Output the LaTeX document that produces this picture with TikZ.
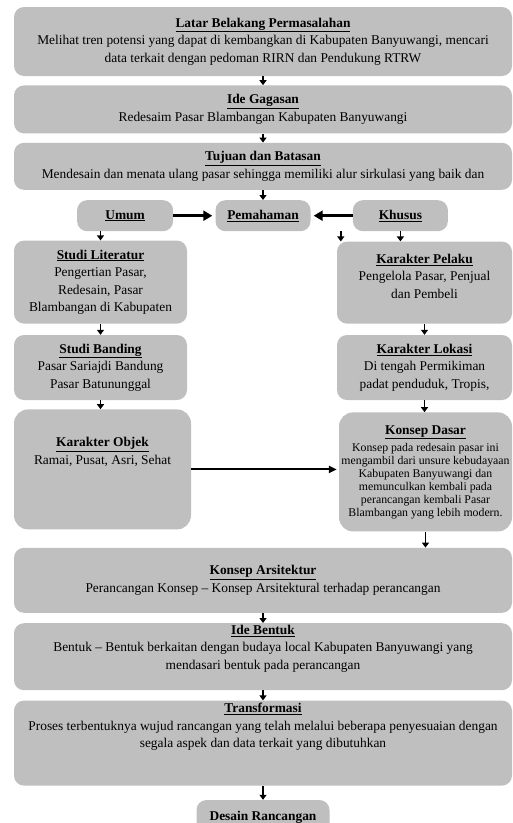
\documentclass[tikz,border=0pt]{standalone}
\usepackage{fontspec}
\setmainfont{Liberation Serif}
\usetikzlibrary{positioning, arrows.meta}

\definecolor{boxgray}{RGB}{191,191,191}
\newcommand{\boxhead}[1]{\underline{\textbf{#1}}}

\tikzset{
	flowpicture/.style = {
		x = 1pt,
		y = 1pt,
		font = \fontsize{13.4}{17.5}\selectfont,
		arrow/.style = {
			draw,
			line width = 1.7pt,
			-{Triangle[length=5pt, width=7pt]},
		},
		wide-arrow/.style = {
			line width = 3pt,
			-{Triangle[length=9pt, width=10pt]},
			shorten >= 3pt,
		},
		long-arrow/.style = {
			line width = 2pt,
			-{Triangle[length=8pt, width=7pt]},
			shorten >= 2pt,
		}
	},
	flownode/.style = {
		fill = boxgray,
		rounded corners = 10pt,
		align = center,
		inner sep = 0pt
	},
	mainnode/.style = {
		flownode,
		minimum width = 498pt
	},
	lift/.style = {
		text depth = #1
	},
	smalltext/.style = {
		font = \fontsize{11.8}{13}\selectfont
	}
}

\begin{document}
\begin{tikzpicture}[flowpicture]
	\useasboundingbox (0,0) rectangle (513,-823);

	\node[mainnode, minimum height = 69pt] (latar) at (263,-41.5)
		{\boxhead{Latar Belakang Permasalahan}\\Melihat tren potensi yang dapat di kembangkan di Kabupaten Banyuwangi, mencari\\data terkait dengan pedoman RIRN dan Pendukung RTRW};
	\node[mainnode, minimum height = 48pt, below = 9pt of latar] (gagasan)
		{\boxhead{Ide Gagasan}\\Redesaim Pasar Blambangan Kabupaten Banyuwangi};
	\node[mainnode, minimum height = 47pt, below = 9pt of gagasan] (tujuan)
		{\boxhead{Tujuan dan Batasan}\\Mendesain dan menata ulang pasar sehingga memiliki alur sirkulasi yang baik dan};

	\node[flownode, minimum width = 95pt, minimum height = 31pt, below = 10pt of tujuan] (pemahaman) {\boxhead{Pemahaman}};
	\node[flownode, minimum width = 96pt, minimum height = 31pt, left = 42pt of pemahaman] (umum) {\boxhead{Umum}};
	\node[flownode, minimum width = 95pt, minimum height = 31pt, right = 42pt of pemahaman] (khusus) {\boxhead{Khusus}};

	% kolom kiri
	\node[flownode, minimum width = 173pt, minimum height = 83pt, anchor = north west] (literatur) at ([yshift=-9pt]umum.south -| latar.west)
		{\boxhead{Studi Literatur}\\Pengertian Pasar,\\Redesain, Pasar\\Blambangan di Kabupaten};
	\node[flownode, minimum width = 173pt, minimum height = 65pt, below = 11pt of literatur] (banding)
		{\boxhead{Studi Banding}\\Pasar Sariajdi Bandung\\Pasar Batununggal};
	\node[flownode, rounded corners = 14pt, minimum width = 177pt, minimum height = 120pt, lift = 37pt, below = 9pt of banding, xshift = 2pt] (objek)
		{\boxhead{Karakter Objek}\\Ramai, Pusat, Asri, Sehat};

	% kolom kanan
	\node[flownode, minimum width = 175pt, minimum height = 82pt, lift = 13pt, anchor = north east] (pelaku) at ([yshift=-10pt]khusus.south -| latar.east)
		{\boxhead{Karakter Pelaku}\\Pengelola Pasar, Penjual\\dan Pembeli};
	\node[flownode, minimum width = 175pt, minimum height = 65pt, below = 11pt of pelaku] (lokasi)
		{\boxhead{Karakter Lokasi}\\Di tengah Permikiman\\padat penduduk, Tropis,};
	\node[flownode, smalltext, rounded corners = 14pt, minimum width = 173pt, minimum height = 119pt, below = 12pt of lokasi, xshift = 1pt] (dasar)
		{{\fontsize{13.4}{17.5}\selectfont\boxhead{Konsep Dasar}}\\[3pt]Konsep pada redesain pasar ini\\mengambil dari unsure kebudayaan\\Kabupaten Banyuwangi dan\\memunculkan kembali pada\\perancangan kembali Pasar\\Blambangan yang lebih modern.};

	\node[mainnode, minimum height = 65pt, anchor = north] (arsitektur) at ([yshift=-16pt]dasar.south -| tujuan)
		{\boxhead{Konsep Arsitektur}\\Perancangan Konsep -- Konsep Arsitektural terhadap perancangan};
	\node[mainnode, minimum height = 67pt, lift = 19pt, below = 10pt of arsitektur] (bentuk)
		{\boxhead{Ide Bentuk}\\Bentuk -- Bentuk berkaitan dengan budaya local Kabupaten Banyuwangi yang\\mendasari bentuk pada perancangan};
	\node[mainnode, minimum height = 85pt, lift = 35pt, below = 10pt of bentuk] (transformasi)
		{\boxhead{Transformasi}\\Proses terbentuknya wujud rancangan yang telah melalui beberapa penyesuaian dengan\\segala aspek dan data terkait yang dibutuhkan};
	\node[flownode, minimum width = 133pt, minimum height = 36pt, below = 14pt of transformasi] (desain) {\boxhead{Desain Rancangan}};

	\coordinate (stray) at ([xshift=4pt]pelaku.north west |- khusus.south);

	\begin{scope}[every path/.style = arrow]
		\path (latar) to (gagasan);
		\path (gagasan) to (tujuan);
		\path (tujuan) to (pemahaman);

		\path[wide-arrow] (umum) to (pemahaman);
		\path[wide-arrow] (khusus) to (pemahaman);

		\path (umum.south -| literatur.north) to (literatur.north);
		\path (literatur) to (banding);
		\path (banding.south) to (banding.south |- objek.north);
		\path[long-arrow] (objek) to (objek -| dasar.west);

		\path (khusus.south) to (khusus.south |- pelaku.north);
		\path (stray) to (stray |- pelaku.north);
		\path (pelaku) to (lokasi);
		\path (lokasi.south) to (lokasi.south |- dasar.north);
		\path (dasar.south) to (dasar.south |- arsitektur.north);

		\path (arsitektur) to (bentuk);
		\path (bentuk) to (transformasi);
		\path (transformasi) to (desain);
	\end{scope}
\end{tikzpicture}
\end{document}
